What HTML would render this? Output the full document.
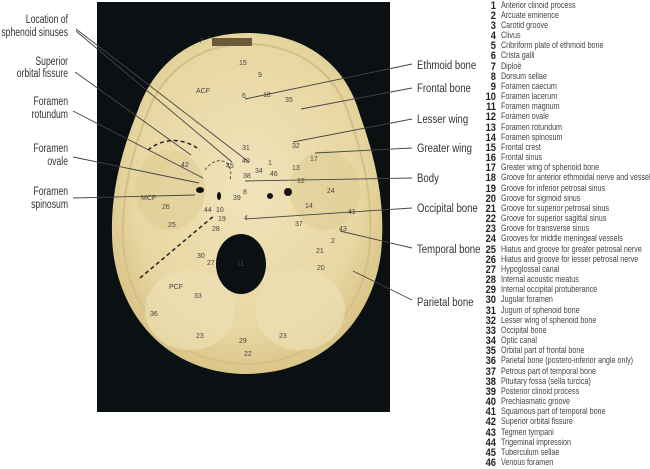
<!DOCTYPE html>
<html><head><meta charset="utf-8"><style>
html,body{margin:0;padding:0;background:#fff;}
svg{display:block;}
.l{font-family:"Liberation Sans",sans-serif;font-size:12px;fill:#333;}
.n{font-family:"Liberation Sans",sans-serif;font-size:11px;font-weight:bold;fill:#222;}
.t{font-family:"Liberation Sans",sans-serif;font-size:9px;fill:#444;}
.s{font-family:"Liberation Sans",sans-serif;font-size:7px;fill:#444;}
</style></head><body>
<svg width="650" height="469" viewBox="0 0 650 469" xmlns="http://www.w3.org/2000/svg">
<defs>
<radialGradient id="bone" cx="50%" cy="45%" r="60%">
<stop offset="0" stop-color="#f1e4bb"/><stop offset="0.7" stop-color="#e8d7a2"/><stop offset="1" stop-color="#d6bf80"/>
</radialGradient>
</defs>
<rect x="97" y="2" width="293" height="410" fill="#0b1113"/>
<path d="M247,33 C300,33 345,60 360,115 C376,160 384,200 382,240 C380,300 340,372 248,374 C160,374 113,305 112,235 C111,190 122,150 138,110 C156,60 195,33 247,33 Z" fill="url(#bone)"/>
<path d="M247,44 C295,44 336,70 350,118 C366,165 372,200 370,240 C368,295 332,362 248,364 C165,364 124,300 123,236 C122,192 132,152 147,114 C163,70 200,44 247,44 Z" fill="none" stroke="#d4bf85" stroke-width="2"/>
<rect x="212" y="38" width="40" height="8" fill="#6b5a3a"/>
<ellipse cx="170" cy="190" rx="35" ry="40" fill="#e0cd95" opacity="0.6"/>
<ellipse cx="325" cy="190" rx="35" ry="40" fill="#e0cd95" opacity="0.6"/>
<ellipse cx="190" cy="310" rx="45" ry="40" fill="#ece0b4" opacity="0.7"/>
<ellipse cx="300" cy="310" rx="45" ry="40" fill="#ece0b4" opacity="0.7"/>
<ellipse cx="241" cy="264" rx="25" ry="30" fill="#0b1113"/>
<ellipse cx="200" cy="190" rx="4" ry="3" fill="#111"/>
<ellipse cx="288" cy="192" rx="4" ry="4" fill="#111"/>
<ellipse cx="270" cy="196" rx="3" ry="3" fill="#111"/>
<ellipse cx="219" cy="196" rx="2" ry="4" fill="#111"/>
<path d="M148,150 C160,140 180,135 200,150" fill="none" stroke="#222" stroke-width="1.5" stroke-dasharray="4,3"/>
<path d="M140,278 L215,215" fill="none" stroke="#222" stroke-width="1.5" stroke-dasharray="4,3"/>
<path d="M205,170 C215,155 235,158 230,180" fill="none" stroke="#333" stroke-width="0.8" stroke-dasharray="3,2"/>
<g stroke="#444" stroke-width="0.9">
<line x1="76" y1="29" x2="249" y2="162"/><line x1="76" y1="31" x2="232" y2="162"/>
<line x1="75" y1="72" x2="191" y2="155"/>
<line x1="73" y1="111" x2="203" y2="178"/>
<line x1="73" y1="157" x2="199" y2="183"/>
<line x1="73" y1="198" x2="195" y2="195"/>
<line x1="412" y1="64" x2="245" y2="99"/>
<line x1="412" y1="88" x2="301" y2="109"/>
<line x1="412" y1="119" x2="293" y2="142"/>
<line x1="412" y1="148" x2="315" y2="153"/>
<line x1="412" y1="178" x2="245" y2="181"/>
<line x1="412" y1="208" x2="245" y2="219"/>
<line x1="412" y1="248" x2="340" y2="231"/>
<line x1="412" y1="300" x2="353" y2="271"/>
</g>
<g class="s">
<text x="199" y="43">7</text><text x="239" y="65">15</text><text x="258" y="77">9</text><text x="196" y="93">ACF</text>
<text x="263" y="97">18</text><text x="242" y="98">6</text><text x="285" y="102">35</text>
<text x="242" y="150">31</text><text x="292" y="148">32</text><text x="310" y="161">17</text>
<text x="181" y="167">42</text><text x="226" y="168">45</text><text x="242" y="163">40</text><text x="268" y="165">1</text>
<text x="255" y="173">34</text><text x="243" y="178">38</text><text x="292" y="170">13</text><text x="270" y="176">46</text>
<text x="297" y="183">12</text><text x="243" y="194">8</text><text x="233" y="200">39</text><text x="327" y="193">24</text>
<text x="141" y="200">MCF</text><text x="162" y="209">26</text><text x="168" y="227">25</text><text x="204" y="212">44</text>
<text x="216" y="212">10</text><text x="305" y="208">14</text><text x="348" y="214">41</text><text x="218" y="221">19</text>
<text x="244" y="220">4</text><text x="295" y="226">37</text><text x="212" y="231">28</text><text x="339" y="231">43</text>
<text x="331" y="243">2</text><text x="197" y="258">30</text><text x="316" y="253">21</text><text x="237" y="266">11</text>
<text x="207" y="265">27</text><text x="317" y="270">20</text><text x="169" y="289">PCF</text><text x="194" y="298">33</text>
<text x="150" y="316">36</text><text x="196" y="338">23</text><text x="279" y="338">23</text><text x="239" y="343">29</text>
<text x="244" y="356">22</text>
</g>
<g class="l" text-anchor="end" transform="translate(68,0) scale(0.72,1)">
<text x="0" y="23">Location of</text><text x="0" y="36">sphenoid sinuses</text>
<text x="0" y="65">Superior</text><text x="0" y="77">orbital fissure</text>
<text x="0" y="105">Foramen</text><text x="0" y="118">rotundum</text>
<text x="0" y="152">Foramen</text><text x="0" y="165">ovale</text>
<text x="0" y="195">Foramen</text><text x="0" y="208">spinosum</text>
</g>
<g class="l" transform="translate(417,0) scale(0.8,1)">
<text x="0" y="69">Ethmoid bone</text><text x="0" y="92">Frontal bone</text>
<text x="0" y="123">Lesser wing</text><text x="0" y="152">Greater wing</text>
<text x="0" y="182">Body</text><text x="0" y="212">Occipital bone</text>
<text x="0" y="253">Temporal bone</text><text x="0" y="306">Parietal bone</text>
</g>
<g class="n" text-anchor="end" transform="translate(496,0) scale(0.85,1)">
<text x="0" y="9">1</text><text x="0" y="19">2</text><text x="0" y="29">3</text><text x="0" y="39">4</text><text x="0" y="49">5</text><text x="0" y="59">6</text><text x="0" y="70">7</text><text x="0" y="80">8</text><text x="0" y="90">9</text><text x="0" y="100">10</text><text x="0" y="110">11</text><text x="0" y="120">12</text><text x="0" y="131">13</text><text x="0" y="141">14</text><text x="0" y="151">15</text><text x="0" y="161">16</text><text x="0" y="171">17</text><text x="0" y="181">18</text><text x="0" y="192">19</text><text x="0" y="202">20</text><text x="0" y="212">21</text><text x="0" y="222">22</text><text x="0" y="232">23</text><text x="0" y="242">24</text><text x="0" y="253">25</text><text x="0" y="263">26</text><text x="0" y="273">27</text><text x="0" y="283">28</text><text x="0" y="293">29</text><text x="0" y="303">30</text><text x="0" y="314">31</text><text x="0" y="324">32</text><text x="0" y="334">33</text><text x="0" y="344">34</text><text x="0" y="354">35</text><text x="0" y="364">36</text><text x="0" y="375">37</text><text x="0" y="385">38</text><text x="0" y="395">39</text><text x="0" y="405">40</text><text x="0" y="415">41</text><text x="0" y="425">42</text><text x="0" y="436">43</text><text x="0" y="446">44</text><text x="0" y="456">45</text><text x="0" y="466">46</text>
</g>
<g class="t" transform="translate(501,0) scale(0.8,1)">
<text x="0" y="8">Anterior clinoid process</text><text x="0" y="18">Arcuate eminence</text><text x="0" y="28">Carotid groove</text><text x="0" y="38">Clivus</text><text x="0" y="48">Cribriform plate of ethmoid bone</text><text x="0" y="58">Crista galli</text><text x="0" y="69">Diploë</text><text x="0" y="79">Dorsum sellae</text><text x="0" y="89">Foramen caecum</text><text x="0" y="99">Foramen lacerum</text><text x="0" y="109">Foramen magnum</text><text x="0" y="119">Foramen ovale</text><text x="0" y="130">Foramen rotundum</text><text x="0" y="140">Foramen spinosum</text><text x="0" y="150">Frontal crest</text><text x="0" y="160">Frontal sinus</text><text x="0" y="170">Greater wing of sphenoid bone</text><text x="0" y="180">Groove for anterior ethmoidal nerve and vessels</text><text x="0" y="191">Groove for inferior petrosal sinus</text><text x="0" y="201">Groove for sigmoid sinus</text><text x="0" y="211">Groove for superior petrosal sinus</text><text x="0" y="221">Groove for superior sagittal sinus</text><text x="0" y="231">Groove for transverse sinus</text><text x="0" y="241">Grooves for middle meningeal vessels</text><text x="0" y="252">Hiatus and groove for greater petrosal nerve</text><text x="0" y="262">Hiatus and groove for lesser petrosal nerve</text><text x="0" y="272">Hypoglossal canal</text><text x="0" y="282">Internal acoustic meatus</text><text x="0" y="292">Internal occipital protuberance</text><text x="0" y="302">Jugular foramen</text><text x="0" y="313">Jugum of sphenoid bone</text><text x="0" y="323">Lesser wing of sphenoid bone</text><text x="0" y="333">Occipital bone</text><text x="0" y="343">Optic canal</text><text x="0" y="353">Orbital part of frontal bone</text><text x="0" y="363">Parietal bone (postero-inferior angle only)</text><text x="0" y="374">Petrous part of temporal bone</text><text x="0" y="384">Pituitary fossa (sella turcica)</text><text x="0" y="394">Posterior clinoid process</text><text x="0" y="404">Prechiasmatic groove</text><text x="0" y="414">Squamous part of temporal bone</text><text x="0" y="424">Superior orbital fissure</text><text x="0" y="435">Tegmen tympani</text><text x="0" y="445">Trigeminal impression</text><text x="0" y="455">Tuberculum sellae</text><text x="0" y="465">Venous foramen</text>
</g>
</svg>
</body></html>
